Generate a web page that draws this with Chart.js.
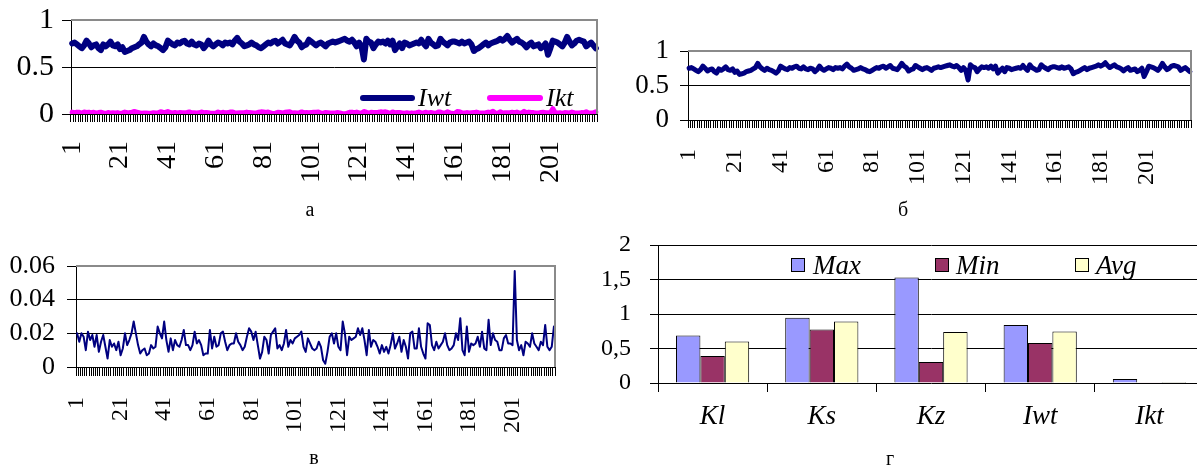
<!DOCTYPE html>
<html><head><meta charset="utf-8">
<script src="https://cdn.jsdelivr.net/npm/chart.js@4/dist/chart.umd.min.js"></script>
<style>
html,body{margin:0;padding:0;background:#fff;}
body{width:1197px;height:466px;overflow:hidden;position:relative;font-family:"Liberation Serif","Times New Roman",serif;color:#000;}
canvas{position:absolute;}
.cap{position:absolute;font-family:"Liberation Serif","Times New Roman",serif;font-size:20px;line-height:20px;transform:translateX(-50%);}
.lt{position:absolute;font-family:"Liberation Serif","Times New Roman",serif;font-style:italic;white-space:nowrap;}
.ls{position:absolute;border-radius:3px;}
.bx{position:absolute;box-sizing:border-box;border:1px solid #000;width:14px;height:14px;}
</style></head>
<body>
<canvas id="ca" width="600" height="200" style="left:0;top:0"></canvas>
<canvas id="cb" width="597" height="200" style="left:600px;top:0"></canvas>
<canvas id="cc" width="600" height="236" style="left:0;top:230px"></canvas>
<canvas id="cd" width="610" height="236" style="left:600px;top:230px"></canvas>

<div class="ls" style="left:360px;top:95px;width:55px;height:6px;background:#000080"></div>
<div class="lt" style="left:418px;top:85px;font-size:26px;line-height:26px">Iwt</div>
<div class="ls" style="left:487px;top:95px;width:56px;height:6px;background:#FF00FF"></div>
<div class="lt" style="left:546px;top:85px;font-size:26px;line-height:26px">Ikt</div>

<div class="bx" style="left:791px;top:258px;background:#9999FF"></div>
<div class="lt" style="left:813px;top:252px;font-size:27px;line-height:27px">Max</div>
<div class="bx" style="left:935px;top:258px;background:#993366"></div>
<div class="lt" style="left:956px;top:252px;font-size:27px;line-height:27px">Min</div>
<div class="bx" style="left:1075px;top:258px;background:#FFFFCC"></div>
<div class="lt" style="left:1096px;top:252px;font-size:27px;line-height:27px">Avg</div>

<div class="cap" style="left:310px;top:199px">а</div>
<div class="cap" style="left:903px;top:199px">б</div>
<div class="cap" style="left:314px;top:447px">в</div>
<div class="cap" style="left:890px;top:448px">г</div>

<script>
// ---- data ----
const Iwt = [
.75,.76,.74,.72,.70,.73,.78,.75,.71,.73,
.74,.70,.68,.74,.72,.74,.77,.73,.72,.74,
.69,.71,.66,.67,.68,.70,.71,.72,.74,.76,
.82,.77,.74,.72,.75,.73,.72,.70,.68,.71,
.78,.76,.74,.73,.76,.75,.77,.78,.75,.74,
.77,.74,.73,.75,.74,.70,.73,.78,.74,.72,
.74,.76,.75,.73,.76,.75,.76,.74,.78,.81,
.77,.75,.72,.73,.74,.76,.74,.73,.71,.70,
.72,.74,.76,.75,.77,.78,.75,.77,.79,.75,
.74,.73,.77,.82,.78,.76,.71,.73,.74,.79,
.77,.75,.73,.75,.76,.74,.72,.75,.76,.77,
.76,.77,.78,.79,.80,.78,.77,.79,.76,.72,
.76,.72,.58,.80,.77,.76,.70,.74,.77,.76,
.77,.75,.78,.74,.78,.68,.72,.75,.70,.76,
.75,.73,.74,.75,.76,.75,.79,.75,.72,.80,
.76,.74,.72,.73,.80,.77,.75,.73,.76,.77,
.77,.76,.75,.77,.75,.76,.77,.74,.67,.69,
.70,.72,.74,.76,.73,.75,.76,.77,.78,.80,
.78,.80,.83,.79,.76,.78,.80,.77,.76,.74,
.71,.74,.76,.72,.73,.74,.70,.72,.75,.63,
.70,.78,.77,.76,.74,.72,.76,.82,.77,.73,
.75,.78,.79,.78,.77,.72,.74,.76,.73,.70
];
const Ikt = [
.020,.015,.020,.018,.010,.021,.016,.019,.012,.019,
.009,.015,.019,.012,.005,.016,.012,.014,.010,.015,
.007,.011,.020,.013,.016,.020,.027,.020,.013,.008,
.010,.011,.007,.008,.013,.011,.012,.024,.020,.017,
.027,.016,.009,.017,.010,.016,.013,.012,.016,.022,
.013,.013,.010,.013,.021,.014,.016,.013,.007,.008,
.008,.022,.011,.018,.012,.013,.020,.021,.015,.010,
.013,.014,.014,.020,.015,.013,.010,.012,.018,.023,
.021,.016,.021,.013,.005,.009,.018,.016,.008,.019,
.021,.023,.011,.013,.010,.014,.022,.012,.016,.014,
.017,.018,.019,.021,.012,.009,.017,.014,.011,.010,
.011,.015,.012,.004,.002,.009,.018,.020,.014,.020,
.012,.010,.027,.020,.007,.018,.016,.017,.018,.023,
.019,.023,.016,.007,.022,.012,.016,.015,.012,.008,
.013,.009,.012,.008,.013,.020,.011,.014,.018,.009,
.016,.012,.005,.020,.021,.011,.011,.023,.012,.008,
.005,.026,.025,.013,.010,.015,.011,.013,.015,.020,
.013,.010,.011,.013,.020,.016,.029,.010,.007,.024,
.009,.014,.013,.014,.018,.012,.021,.011,.010,.028,
.013,.020,.016,.015,.010,.010,.017,.019,.014,.014,
.013,.057,.016,.010,.013,.007,.015,.014,.012,.020,
.014,.012,.010,.015,.013,.025,.012,.010,.012,.024
];
const pointNumbers = Iwt.map((_, i) => String(i + 1));
const labelEvery = 20;

const params  = ['Kl', 'Ks', 'Kz', 'Iwt', 'Ikt'];
const maxVals = [0.69, 0.945, 1.53, 0.84, 0.057];
const minVals = [0.39, 0.775, 0.305, 0.58, 0.002];
const avgVals = [0.60, 0.89, 0.74, 0.745, 0.014];

// ---- rendering ----
const FONT = '"Liberation Serif", "Times New Roman", serif';
const NAVY = '#000080', MAGENTA = '#FF00FF';

const framePlugin = {
  id: 'frame',
  afterDraw(chart, args, opts) {
    if (!opts || !opts.draw) return;
    const {ctx, chartArea: a} = chart;
    ctx.save();
    ctx.strokeStyle = opts.color; ctx.lineWidth = opts.width;
    ctx.beginPath();
    ctx.moveTo(a.left, a.top); ctx.lineTo(a.right, a.top); ctx.lineTo(a.right, a.bottom);
    ctx.stroke();
    ctx.restore();
  }
};

function lineChart(id, datasets, cfg) {
  return new Chart(document.getElementById(id), {
    type: 'line',
    data: {labels: pointNumbers, datasets},
    options: {
      responsive: false, animation: false, events: [],
      layout: {padding: {top: cfg.padTop, right: cfg.padRight, left: 0, bottom: 0}},
      elements: {point: {radius: 0}, line: {tension: 0, borderJoinStyle: 'round', borderCapStyle: 'round'}},
      plugins: {legend: {display: false}, tooltip: {enabled: false}, frame: {draw: true, color: '#8a8a8a', width: 2}},
      scales: {
        x: {
          type: 'category', offset: true,
          grid: {display: true, drawOnChartArea: false, drawTicks: true, tickLength: cfg.xTick, color: '#000', lineWidth: 1, offset: true},
          border: {display: true, color: '#000', width: 1},
          ticks: {autoSkip: false, minRotation: 90, maxRotation: 90, padding: cfg.xPad, color: '#000',
                  font: {family: FONT, size: cfg.xFont},
                  callback: (v, i) => (i % labelEvery === 0 ? pointNumbers[i] : '')},
          afterFit: s => { s.height = cfg.xHeight; s.paddingLeft = 0; s.paddingRight = 0; }
        },
        y: {
          min: 0, max: cfg.max,
          ticks: {autoSkip: false, stepSize: cfg.step, padding: cfg.yPad, color: '#000', font: {family: FONT, size: cfg.yFont}, callback: cfg.fmt},
          grid: {
            color: c => (c.tick && (c.tick.value === 0 || Math.abs(c.tick.value - cfg.max) < 1e-9)) ? 'rgba(0,0,0,0)' : '#000',
            tickColor: '#000', tickLength: cfg.yTick, lineWidth: 1
          },
          border: {display: true, color: '#000', width: 1},
          afterFit: s => { s.width = cfg.yWidth; s.paddingTop = 0; s.paddingBottom = 0; }
        }
      }
    },
    plugins: [framePlugin]
  });
}

const fmtHalf = v => String(v);
const fmtSmall = v => (v === 0 ? '0' : Number(v).toFixed(2));

// а
lineChart('ca', [
  {data: Iwt, borderColor: NAVY, borderWidth: 6},
  {data: Ikt, borderColor: MAGENTA, borderWidth: 5}
], {padTop: 20, padRight: 3, yWidth: 71, xHeight: 86, max: 1, step: 0.5, fmt: fmtHalf,
    yFont: 30, yPad: 8, yTick: 9, xFont: 28, xPad: 19, xTick: 8});

// б
lineChart('cb', [
  {data: Iwt, borderColor: NAVY, borderWidth: 5}
], {padTop: 51, padRight: 6, yWidth: 88, xHeight: 80, max: 1, step: 0.5, fmt: fmtHalf,
    yFont: 27, yPad: 11, yTick: 8, xFont: 24, xPad: 21, xTick: 8});

// в
lineChart('cc', [
  {data: Ikt, borderColor: NAVY, borderWidth: 2}
], {padTop: 36, padRight: 45, yWidth: 76, xHeight: 99, max: 0.06, step: 0.02, fmt: fmtSmall,
    yFont: 26, yPad: 12, yTick: 9, xFont: 24, xPad: 21, xTick: 9});

// г
new Chart(document.getElementById('cd'), {
  type: 'bar',
  data: {
    labels: params,
    datasets: [
      {label: 'Max', data: maxVals, backgroundColor: '#9999FF', borderColor: '#000', borderWidth: 1},
      {label: 'Min', data: minVals, backgroundColor: '#993366', borderColor: '#000', borderWidth: 1},
      {label: 'Avg', data: avgVals, backgroundColor: '#FFFFCC', borderColor: '#000', borderWidth: 1}
    ]
  },
  options: {
    responsive: false, animation: false, events: [],
    layout: {padding: {top: 15, right: 6, left: 0, bottom: 0}},
    datasets: {bar: {categoryPercentage: 0.67, barPercentage: 1}},
    plugins: {legend: {display: false}, tooltip: {enabled: false}},
    scales: {
      x: {
        grid: {display: true, drawOnChartArea: false, tickLength: 9, color: '#000', offset: true},
        border: {display: true, color: '#000', width: 1},
        ticks: {padding: 9, color: '#000', font: {family: FONT, size: 27, style: 'italic'}},
        afterFit: s => { s.height = 83; s.paddingLeft = 0; s.paddingRight = 0; }
      },
      y: {
        min: 0, max: 2,
        ticks: {autoSkip: false, stepSize: 0.5, padding: 19, color: '#000', font: {family: FONT, size: 24},
                callback: v => String(v).replace('.', ',')},
        grid: {color: c => (c.tick && c.tick.value === 0) ? 'rgba(0,0,0,0)' : '#000', tickColor: '#000', tickLength: 8, lineWidth: 1},
        border: {display: true, color: '#000', width: 1},
        afterFit: s => { s.width = 58; s.paddingTop = 0; s.paddingBottom = 0; }
      }
    }
  }
});
</script>
</body></html>
